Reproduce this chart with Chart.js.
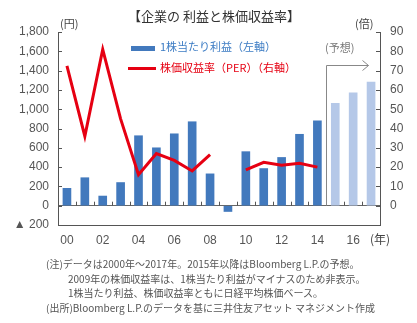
<!DOCTYPE html>
<html>
<head>
<meta charset="utf-8">
<script src="https://cdn.jsdelivr.net/npm/chart.js@4"></script>
<style>
  body { margin: 0; background: #fff; }
  #wrap { position: relative; width: 417px; height: 323px; font-family: "Noto Sans CJK JP", sans-serif; color: #444; }
  #wrap canvas { position: absolute; left: 0; top: 0; }
  .t { position: absolute; white-space: nowrap; line-height: 1; }
  .note { position: absolute; white-space: nowrap; font-size: 10px; color: #555; line-height: 1; }
</style>
</head>
<body>
<div id="wrap">
  <canvas id="perChart" width="417" height="323"></canvas>
  <div class="t" style="left:128px; top:9px; font-size:13px; color:#333;">【企業の 利益と株価収益率】</div>
  <div class="t" style="left:60px; top:18px; font-size:11px;">(円)</div>
  <div class="t" style="left:355px; top:18px; font-size:11px;">(倍)</div>
  <div class="t" style="left:160px; top:41px; font-size:11px; color:#3c7cc4;">1株当たり利益（左軸）</div>
  <div class="t" style="left:160px; top:62px; font-size:11px; color:#e60012;">株価収益率（PER）（右軸）</div>
  <div class="t" style="left:325px; top:42px; font-size:11px; color:#777;">(予想)</div>
  <div class="t" style="left:370px; top:233px; font-size:12px;">(年)</div>
  <div class="note" style="left:46px; top:259px;">(注)データは2000年～2017年。2015年以降はBloomberg L.P.の予想。</div>
  <div class="note" style="left:68px; top:274px;">2009年の株価収益率は、1株当たり利益がマイナスのため非表示。</div>
  <div class="note" style="left:68px; top:288px;">1株当たり利益、株価収益率ともに日経平均株価ベース。</div>
  <div class="note" style="left:46px; top:303px;">(出所)Bloomberg L.P.のデータを基に三井住友アセット マネジメント作成</div>
</div>
<script>
const years = ['00', '01', '02', '03', '04', '05', '06', '07', '08', '09', '10', '11', '12', '13', '14', '15', '16', '17'];
const eps = [180, 290, 100, 240, 725, 600, 745, 870, 330, -60, 560, 385, 500, 740, 880, 1060, 1170, 1280];
const per = [72.5, 36, 81, 45, 16, 27, 23.5, 18, 26.5, null, 18.5, 22.5, 21, 22, 20, null, null, null];
const leftTicks = [-200, 0, 200, 400, 600, 800, 1000, 1200, 1400, 1600, 1800];
const rightTicks = [-10, 0, 10, 20, 30, 40, 50, 60, 70, 80, 90];
const forecastFrom = 15;

const tickFont = { family: 'Liberation Sans', size: 12 };

// inward tick marks, zero-line ticks and the forecast bracket
const extras = {
  id: 'extras',
  afterDraw(chart) {
    const c = chart.ctx;
    const area = chart.chartArea;
    const x = chart.scales.x;
    const y = chart.scales.y;
    const y1 = chart.scales.y1;
    const zero = y.getPixelForValue(0);
    c.save();
    c.strokeStyle = '#555';
    c.lineWidth = 1;
    c.beginPath();
    leftTicks.forEach(v => {
      const py = Math.round(y.getPixelForValue(v)) + 0.5;
      c.moveTo(area.left, py);
      c.lineTo(area.left + 4, py);
    });
    rightTicks.forEach(v => {
      const py = Math.round(y1.getPixelForValue(v)) + 0.5;
      c.moveTo(area.right - 4, py);
      c.lineTo(area.right, py);
    });
    const step = (area.right - area.left) / years.length;
    for (let i = 1; i < years.length; i++) {
      const px = Math.round(area.left + i * step) + 0.5;
      c.moveTo(px, zero);
      c.lineTo(px, zero - 4);
    }
    c.stroke();

    // forecast bracket
    const bx = Math.round((x.getPixelForValue(forecastFrom - 1) + x.getPixelForValue(forecastFrom)) / 2) + 0.5;
    const by = 65.5;
    c.strokeStyle = '#888';
    c.beginPath();
    c.moveTo(bx, zero);
    c.lineTo(bx, by);
    c.lineTo(bx + 42, by);
    c.moveTo(bx + 36, by - 5);
    c.lineTo(bx + 42, by);
    c.lineTo(bx + 36, by + 5);
    c.stroke();

    // legend marks
    c.fillStyle = '#4279bd';
    c.fillRect(131, 46, 24, 5);
    c.strokeStyle = '#e60012';
    c.lineWidth = 3;
    c.beginPath();
    c.moveTo(128, 68.5);
    c.lineTo(156, 68.5);
    c.stroke();
    c.restore();
  }
};

const ctx = document.getElementById('perChart').getContext('2d');

const perChart = new Chart(ctx, {
  type: 'bar',
  data: {
    labels: years,
    datasets: [{
      type: 'line',
      label: '株価収益率（PER）（右軸）',
      data: per,
      yAxisID: 'y1',
      borderColor: '#e60012',
      borderWidth: 3,
      pointRadius: 0,
      tension: 0,
      spanGaps: false,
      order: 1
    }, {
      label: '1株当たり利益（左軸）',
      data: eps,
      yAxisID: 'y',
      backgroundColor: eps.map((v, i) => i >= forecastFrom ? '#b5c8e8' : '#4279bd'),
      barThickness: 8,
      order: 2
    }]
  },
  plugins: [extras],
  options: {
    responsive: false,
    animation: false,
    layout: {
      padding: { top: 32, left: 0, right: 0, bottom: 0 }
    },
    plugins: {
      legend: { display: false },
      title: { display: false },
      tooltip: { enabled: false }
    },
    scales: {
      x: {
        offset: true,
        grid: { display: false, drawTicks: false },
        border: { display: true, color: '#555' },
        ticks: {
          autoSkip: false,
          maxRotation: 0,
          padding: 8,
          color: '#555',
          font: tickFont,
          callback: (v, i) => i % 2 === 0 ? years[i] : ''
        },
        afterFit: s => { s.height = 98; }
      },
      y: {
        position: 'left',
        min: -200,
        max: 1800,
        ticks: {
          stepSize: 200,
          padding: 9,
          color: '#555',
          font: tickFont,
          callback: v => v < 0 ? '▲ ' + Math.abs(v) : v.toLocaleString('en-US')
        },
        grid: {
          drawTicks: false,
          color: c => c.tick && c.tick.value === 0 ? '#666' : 'rgba(0,0,0,0)'
        },
        border: { display: true, color: '#555' },
        afterFit: s => { s.width = 58; }
      },
      y1: {
        position: 'right',
        min: -10,
        max: 90,
        ticks: {
          stepSize: 10,
          padding: 10,
          color: '#555',
          font: tickFont,
          callback: v => v < 0 ? '' : v
        },
        grid: { display: false, drawTicks: false },
        border: { display: true, color: '#555' },
        afterFit: s => { s.width = 37; }
      }
    }
  }
});
</script>
</body>
</html>
